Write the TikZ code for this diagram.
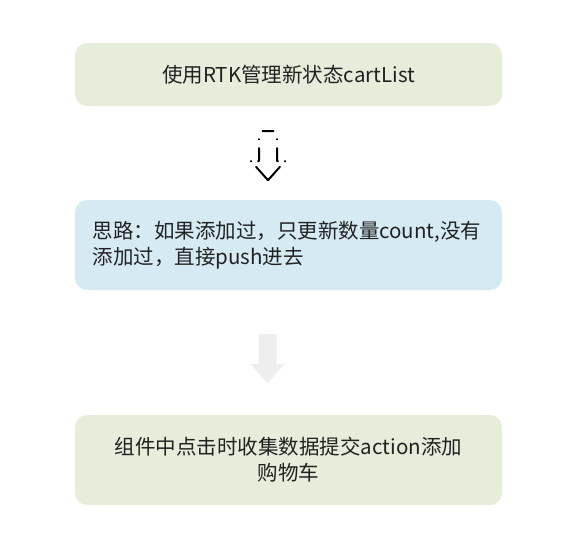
\documentclass[tikz,border=0pt]{standalone}
\usepackage{fontspec}
\setmainfont{Noto Sans CJK SC}
\usetikzlibrary{positioning,calc}
\definecolor{stepgreen}{HTML}{E6EDDA}
\definecolor{stepblue}{HTML}{D5EAF3}
\definecolor{arrowgray}{HTML}{EEEEEE}
\definecolor{textdark}{HTML}{222222}
\tikzset{
	box/.style={rectangle, rounded corners=12pt, minimum width=427pt, inner sep=0pt,
		font=\fontsize{20.5}{26}\selectfont, text=textdark},
	blockarrow/.pic={
		\path[pic actions] (-9,0) -- (9,0) -- (9,-30) -- (17,-30) -- (0,-49)
			-- (-17,-30) -- (-9,-30) -- cycle;
	},
	dottedarrow/.pic={
		\foreach \s in {1,-1}{
			\path[pic actions] (0,0) -- (9*\s,0) -- (9*\s,-30) -- (17*\s,-30) -- (0,-49);
		}
	}
}
\begin{document}
\begin{tikzpicture}[x=1pt,y=1pt]
\useasboundingbox (0,0) rectangle (565,-549);

\node[box, fill=stepgreen, minimum height=63pt](rtk) at(288.5,-74.5) {使用RTK管理新状态cartList};
\node[box, fill=stepblue, minimum height=90pt, text width=392pt, align=left](idea) at(288.5,-245)
	{思路：如果添加过，只更新数量count,没有\\添加过，直接push进去};
\node[box, fill=stepgreen, minimum height=90pt, align=center](click) at(288.5,-460)
	{组件中点击时收集数据提交action添加\\购物车};

% arrows between the boxes
\coordinate(a1) at($(rtk.south)+(-20.5,-25)$);
\coordinate(a2) at($(idea.south)+(-21,-44)$);
\pic[draw=black, line width=2pt, line cap=round, line join=round,
	dash pattern=on 5.5pt off 11.5pt on 0.1pt off 8.9pt on 14pt off 7pt on 0.1pt off 7.4pt on 20pt off 5pt]
	at(a1) {dottedarrow};
\pic[fill=arrowgray] at(a2) {blockarrow};
\end{tikzpicture}
\end{document}
